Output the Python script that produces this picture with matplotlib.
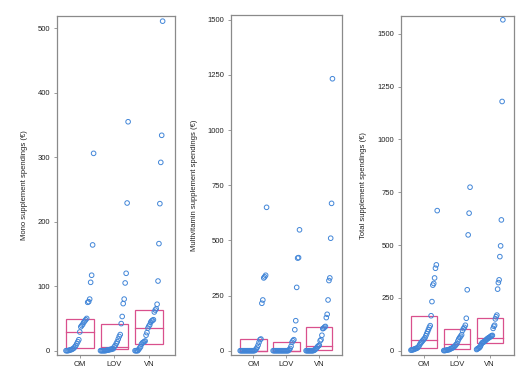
import matplotlib
matplotlib.use("Agg")
import matplotlib.pyplot as plt
from matplotlib.patches import Rectangle
import numpy as np

plt.rcParams['font.family'] = ['Liberation Sans', 'DejaVu Sans']

groups = ["OM", "LOV", "VN"]

# Mono supplement spendings (sorted values per group)
mono_om = [0, 0, 0, 0.5, 1, 1.5, 2, 3, 4, 6, 8, 11, 14, 17, 29, 37, 39, 41, 44, 46, 48, 50,
           75, 76, 80, 106, 117, 164, 306]
mono_lov = [0, 0, 0, 0, 0, 0, 0.5, 1, 1, 1.5, 2, 2, 3, 3, 6, 8, 11, 14, 18, 22, 25, 42,
            53, 73, 80, 105, 120, 229, 355]
mono_vn = [0, 0, 0, 0, 2, 4, 6, 10, 12, 13, 14, 15, 24, 28, 35, 38, 40, 44, 46, 47, 48,
           60, 63, 65, 72, 108, 166, 228, 292, 334, 511]
mono_box = [(4, 29, 49), (2, 6, 42), (10, 35, 63)]

# Multivitamin supplement spendings
multi_om = [0] * 16 + [3, 8, 15, 25, 38, 50, 53, 215, 230, 330, 335, 342, 650]
multi_lov = [0] * 17 + [4, 10, 20, 38, 45, 50, 95, 136, 287, 420, 422, 548]
multi_vn = [0] * 9 + [2, 4, 8, 12, 18, 22, 25, 45, 50, 70, 100, 102, 107, 110, 150, 165,
                      230, 318, 330, 510, 668, 1233]
multi_box = [(0, 0, 54), (0, 0, 38), (2, 23, 106)]

# Total supplement spendings
total_om = [2, 3, 4, 5, 7, 9, 10, 12, 15, 20, 28, 35, 40, 45, 50, 55, 60, 70, 80, 90, 100,
            110, 118, 165, 232, 310, 318, 344, 390, 406, 663]
total_lov = [0, 0, 1, 2, 3, 4, 5, 8, 10, 12, 15, 18, 22, 28, 33, 45, 55, 62, 68, 75, 95,
             104, 110, 120, 153, 288, 548, 651, 774]
total_vn = [5, 8, 10, 12, 15, 20, 28, 35, 38, 40, 42, 45, 48, 52, 55, 58, 60, 62, 65, 68,
            70, 72, 105, 115, 120, 150, 160, 168, 291, 322, 335, 445, 496, 619, 1180, 1567]
total_box = [(12, 50, 165), (8, 33, 104), (35, 58, 155)]

panels = [
    dict(data=[mono_om, mono_lov, mono_vn], box=mono_box,
         ylabel="Mono supplement spendings (\u20ac)", yticks=[0, 100, 200, 300, 400, 500],
         ylim=(-6.7, 519), xlim=(0.348, 3.75),
         rect=[57.3, 16, 174.7, 355], labx=-0.25),
    dict(data=[multi_om, multi_lov, multi_vn], box=multi_box,
         ylabel="Multivitamin supplement spendings (\u20ac)",
         yticks=[0, 250, 500, 750, 1000, 1250, 1500],
         ylim=(-19.5, 1522), xlim=(0.32, 3.69),
         rect=[231, 15, 342, 355], labx=-0.30),
    dict(data=[total_om, total_lov, total_vn], box=total_box,
         ylabel="Total supplement spendings (\u20ac)",
         yticks=[0, 250, 500, 750, 1000, 1250, 1500],
         ylim=(-21, 1585), xlim=(0.306, 3.73),
         rect=[401.3, 16, 513.7, 355], labx=-0.305),
]

W, H = 528, 384
fig = plt.figure(figsize=(W / 100, H / 100), dpi=100)

pt_color = "#4286d8"
box_color = "#d9508d"
frame_color = "#8a8a8a"
bw = 0.8

for p in panels:
    x0, y0, x1, y1 = p["rect"]
    ax = fig.add_axes([x0 / W, 1 - y1 / H, (x1 - x0) / W, (y1 - y0) / H])
    for i, (vals, (q1, med, q3)) in enumerate(zip(p["data"], p["box"])):
        c = i + 1
        v = np.sort(np.asarray(vals, dtype=float))
        n = len(v)
        xs = c - bw / 2 + bw * np.arange(n) / (n - 1)
        ax.add_patch(Rectangle((c - bw / 2, q1), bw, q3 - q1, fill=False,
                               edgecolor=box_color, linewidth=0.9, zorder=2))
        ax.plot([c - bw / 2, c + bw / 2], [med, med], color=box_color, linewidth=0.9, zorder=2)
        ax.scatter(xs, v, s=11, facecolors="none", edgecolors=pt_color, linewidths=0.7, zorder=3)
    ax.set_xlim(*p["xlim"])
    ax.set_ylim(*p["ylim"])
    ax.set_xticks([1, 2, 3])
    ax.set_xticklabels(groups)
    ax.set_yticks(p["yticks"])
    ax.set_yticklabels([str(t) for t in p["yticks"]])
    for s in ax.spines.values():
        s.set_color(frame_color)
        s.set_linewidth(0.9)
    ax.tick_params(axis="both", direction="out", length=2.5, width=0.6, color=frame_color,
                   labelsize=5.5, labelcolor="#222222")
    ax.tick_params(axis="y", pad=2.5)
    ax.tick_params(axis="x", pad=2)
    ax.set_ylabel(p["ylabel"], fontsize=5.5, color="#222222")
    ax.yaxis.set_label_coords(p["labx"], 0.5)

fig.savefig("out.png", dpi=100)
